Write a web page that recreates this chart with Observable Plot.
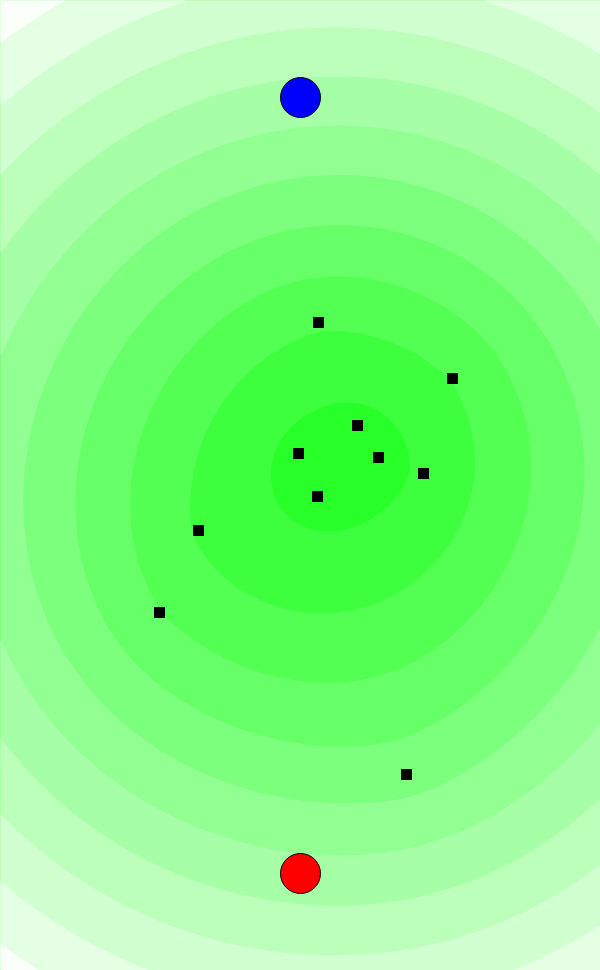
<!DOCTYPE html>
<html>
<head>
<meta charset="utf-8">
<script src="https://cdn.jsdelivr.net/npm/d3@7"></script>
<script src="https://cdn.jsdelivr.net/npm/@observablehq/plot@0.6"></script>
<style>
  html, body { margin: 0; padding: 0; background: #fff; }
  #chart svg { display: block; }
</style>
</head>
<body>
<div id="chart"></div>
<script>
// Black square points
const pointX = [318, 452, 357, 298, 378, 423, 317, 198, 159, 406];
const pointY = [322, 378, 425, 453, 457, 473, 496, 530, 612, 774];

// Two marker circles
const markerX = [300, 300];
const markerY = [97, 873];
const markerColor = ["#0000ff", "#ff0000"];

// Contour levels of the mean-distance field
const levels = [95, 141, 186, 233, 281, 329, 377, 425, 473, 521, 569, 617];

const points = pointX.map((x, i) => ({x, y: pointY[i]}));
const markers = markerX.map((x, i) => ({x, y: markerY[i], c: markerColor[i]}));

function meanDist(x, y) {
  let s = 0;
  for (const p of points) s += Math.hypot(x - p.x, y - p.y);
  return s / points.length;
}

const ramp = d3.interpolateRgb("rgb(40,255,40)", "rgb(255,255,255)");
const bandColors = levels.map((_, i) => ramp(Math.min(1, (i * 21) / 215)));

const W = 600, H = 970;

const chart = Plot.plot({
  width: W,
  height: H,
  margin: 0,
  x: {domain: [0, W], range: [0, W], axis: null},
  y: {domain: [0, H], range: [0, H], axis: null},
  color: {type: "ordinal", domain: levels, range: bandColors},
  marks: [
    Plot.contour({
      x1: 0, y1: 0, x2: W, y2: H,
      value: meanDist,
      fill: "value",
      stroke: "none",
      thresholds: levels
    }),
    Plot.dot(points, {x: "x", y: "y", symbol: "square", r: 6.2, fill: "black", stroke: "none"}),
    Plot.dot(markers, {x: "x", y: "y", r: 20, fill: d => d.c, stroke: "black", strokeWidth: 1})
  ]
});

document.getElementById("chart").appendChild(chart);
</script>
</body>
</html>
